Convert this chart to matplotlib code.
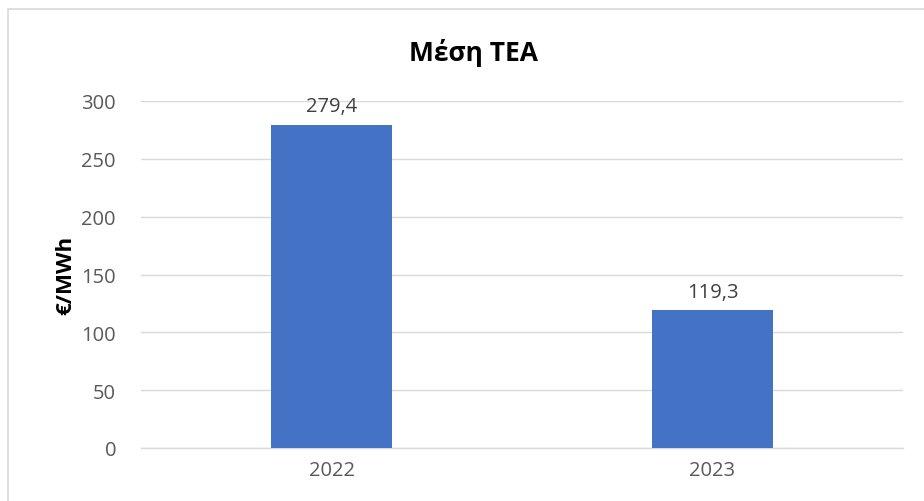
import matplotlib
matplotlib.use("Agg")
import matplotlib.pyplot as plt
from matplotlib.patches import Rectangle

categories = ["2022", "2023"]
values = [279.4, 119.3]
value_labels = ["279,4", "119,3"]
yticks = [0, 50, 100, 150, 200, 250, 300]

plt.rcParams['font.family'] = ['Open Sans', 'DejaVu Sans']

fig = plt.figure(figsize=(9.24, 5.02), dpi=100)
ax = fig.add_axes([141/924, 53/502, 762/924, 347/502])

x = list(range(len(categories)))
ax.bar(x, values, width=0.315, color="#4472C4", zorder=3)
for xi, v, lab in zip(x, values, value_labels):
    ax.annotate(lab, (xi, v), xytext=(0, 6), textcoords="offset points",
                ha="center", va="bottom", fontsize=14.5, color="#404040")

ax.set_xlim(-0.5, len(categories) - 0.5)
ax.set_ylim(0, 300)
ax.set_yticks(yticks)
ax.set_yticklabels([str(t) for t in yticks])
ax.set_xticks(x)
ax.set_xticklabels(categories)
ax.tick_params(axis="both", length=0, labelsize=14.5, labelcolor="#595959")
ax.tick_params(axis="y", pad=18)
ax.tick_params(axis="x", pad=9)
ax.grid(axis="y", color="#D9D9D9", linewidth=1, zorder=0)
for s in ["top", "right", "left"]:
    ax.spines[s].set_visible(False)
ax.spines["bottom"].set_color("#D9D9D9")
ax.spines["bottom"].set_linewidth(1)

ax.set_ylabel("€/MWh", fontsize=16, fontweight="bold", color="black", labelpad=4)
fig.text(0.512, 0.895, "Μέση ΤΕΑ", ha="center", va="center", fontsize=19,
         fontweight="bold", color="black")

fig.patches.append(Rectangle((8/924, -0.1), 1.1, (502-10)/502 + 0.1,
                             transform=fig.transFigure, fill=False,
                             edgecolor="#D9D9D9", linewidth=1.2))

fig.savefig("out.png", dpi=100)
